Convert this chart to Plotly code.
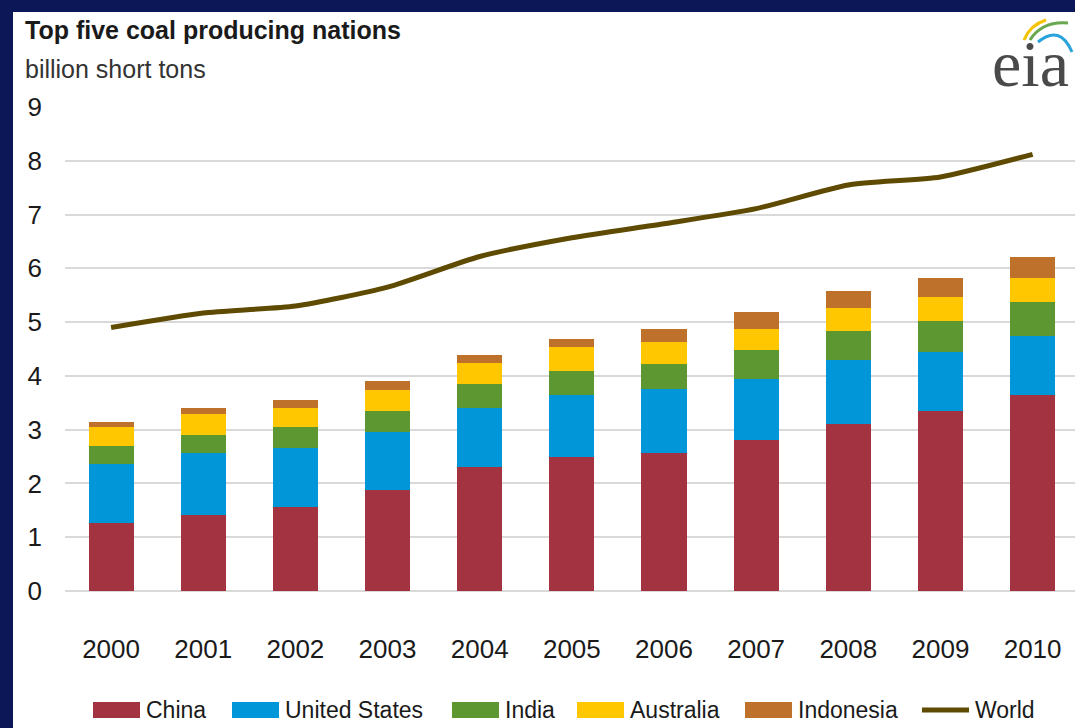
import plotly.graph_objects as go

# Annual coal production, billion short tons
years = ["2000", "2001", "2002", "2003", "2004", "2005", "2006", "2007", "2008", "2009", "2010"]
china = [1.27, 1.42, 1.56, 1.87, 2.31, 2.50, 2.56, 2.81, 3.11, 3.35, 3.64]
united_states = [1.09, 1.14, 1.10, 1.08, 1.09, 1.14, 1.19, 1.13, 1.18, 1.09, 1.10]
india = [0.34, 0.34, 0.39, 0.40, 0.44, 0.45, 0.48, 0.55, 0.54, 0.59, 0.64]
australia = [0.35, 0.40, 0.35, 0.39, 0.40, 0.44, 0.40, 0.39, 0.44, 0.44, 0.44]
indonesia = [0.10, 0.10, 0.15, 0.16, 0.15, 0.16, 0.25, 0.31, 0.30, 0.35, 0.40]
world = [4.90, 5.17, 5.30, 5.65, 6.22, 6.57, 6.83, 7.11, 7.55, 7.70, 8.12]
y_ticks = [0, 1, 2, 3, 4, 5, 6, 7, 8, 9]

series_names = ["China", "United States", "India", "Australia", "Indonesia"]
series_values = [china, united_states, india, australia, indonesia]
series_colors = ["#a33340", "#0096d7", "#5d9732", "#ffc700", "#bd712a"]
world_color = "#5e4a00"

FONT = "Liberation Sans Narrow, Arial Narrow, Liberation Sans, sans-serif"
W, H = 1075, 728
PLOT_L, PLOT_R, PLOT_T, PLOT_B = 65, 1075, 107, 591


def px(x):
    return (x - PLOT_L) / (PLOT_R - PLOT_L)


def py(y):
    return (PLOT_B - y) / (PLOT_B - PLOT_T)


fig = go.Figure()
for name, vals, col in zip(series_names, series_values, series_colors):
    fig.add_trace(go.Bar(x=years, y=vals, name=name, marker=dict(color=col, line=dict(width=0)),
                         width=0.49))
fig.add_trace(go.Scatter(x=years, y=world, name="World", mode="lines",
                         line=dict(color=world_color, width=5, shape="spline", smoothing=0.6)))

shapes = [
    # dark frame strips on the left and top
    dict(type="rect", xref="paper", yref="paper", x0=px(-5), x1=px(13), y0=py(740), y1=py(-5),
         fillcolor="#0c1757", line=dict(width=0), layer="above"),
    dict(type="rect", xref="paper", yref="paper", x0=px(-5), x1=px(1080), y0=py(12), y1=py(-5),
         fillcolor="#0c1757", line=dict(width=0), layer="above"),
]
annotations = [
    dict(text="<b>Top five coal producing nations</b>", xref="paper", yref="paper",
         x=px(23), y=py(14), xanchor="left", yanchor="top", showarrow=False,
         font=dict(family=FONT, size=25, color="#1a1a1a")),
    dict(text="billion short tons", xref="paper", yref="paper",
         x=px(23), y=py(53), xanchor="left", yanchor="top", showarrow=False,
         font=dict(family=FONT, size=25, color="#333333")),
    # eia mark
    dict(text="eia", xref="paper", yref="paper", x=px(1071), y=py(102), xanchor="right",
         yanchor="bottom", showarrow=False,
         font=dict(family="Liberation Serif, DejaVu Serif, serif", size=66, color="#4a4a4a")),
]

# logo swooshes
for path_pts, col in [
    (((1024, 40), (1030, 25), (1046, 20)), "#f5c400"),
    (((1030, 40), (1042, 21), (1068, 23)), "#6aa84f"),
    (((1038, 42), (1060, 24), (1072, 52)), "#29a3dc"),
]:
    (x0, y0), (xc, yc), (x1, y1) = path_pts
    shapes.append(dict(type="path", xref="paper", yref="paper",
                       path=f"M{px(x0)},{py(y0)} Q{px(xc)},{py(yc)} {px(x1)},{py(y1)}",
                       line=dict(color=col, width=3)))

# legend row
legend_x = [93, 232, 452, 577, 745, 922]
legend_y = 710
for i, name in enumerate(series_names + ["World"]):
    x0 = legend_x[i]
    x1 = x0 + 47
    if name == "World":
        shapes.append(dict(type="line", xref="paper", yref="paper", x0=px(x0), x1=px(x1),
                           y0=py(legend_y), y1=py(legend_y), line=dict(color=world_color, width=5)))
    else:
        shapes.append(dict(type="rect", xref="paper", yref="paper", x0=px(x0), x1=px(x1),
                           y0=py(legend_y + 8), y1=py(legend_y - 8), fillcolor=series_colors[i],
                           line=dict(width=0)))
    annotations.append(dict(text=name, xref="paper", yref="paper", x=px(x1 + 4), y=py(legend_y),
                            xanchor="left", yanchor="middle", showarrow=False,
                            font=dict(family=FONT, size=23, color="#1a1a1a")))

fig.update_layout(
    width=W, height=H,
    margin=dict(l=PLOT_L, r=W - PLOT_R, t=PLOT_T, b=H - PLOT_B),
    barmode="stack",
    showlegend=False,
    paper_bgcolor="white",
    plot_bgcolor="white",
    shapes=shapes,
    annotations=annotations,
    font=dict(family=FONT, color="#1a1a1a"),
)
fig.update_xaxes(range=[-0.5, 10.46], showgrid=False, showline=False, ticks="",
                 ticklabelstandoff=40, tickfont=dict(family=FONT, size=26, color="#1a1a1a"))
fig.update_yaxes(range=[0, 9], tickvals=y_ticks, showgrid=True, gridcolor="#d9d9d9", gridwidth=2,
                 zeroline=True, zerolinecolor="#d9d9d9", zerolinewidth=2, showline=False, ticks="",
                 ticklabelstandoff=22, tickfont=dict(family=FONT, size=26, color="#1a1a1a"))

fig.write_html("out.html")
